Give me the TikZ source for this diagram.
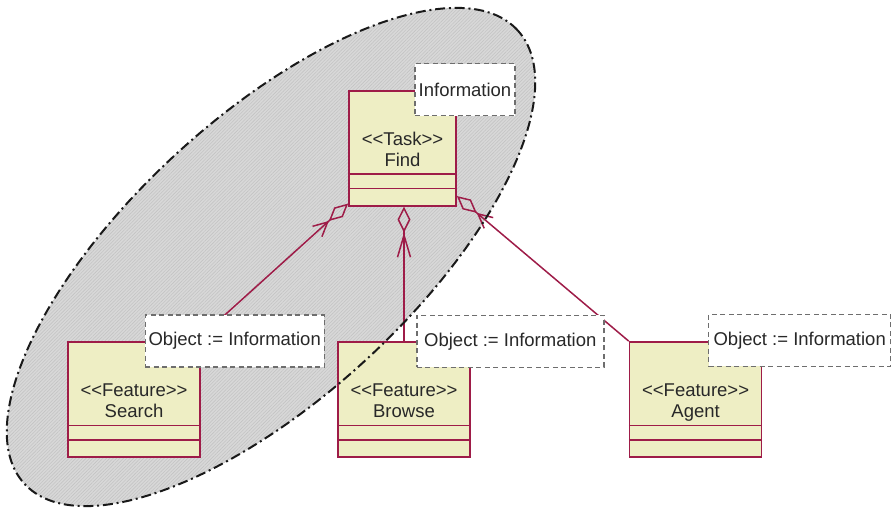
\documentclass[tikz,border=0pt]{standalone}
\usepackage{fontspec}
\setmainfont{Liberation Sans}
\usetikzlibrary{arrows.meta,patterns.meta}

\definecolor{umlred}{RGB}{158,28,72}
\definecolor{umlfill}{RGB}{238,238,196}
\definecolor{notegray}{RGB}{110,110,110}
\definecolor{hatchbase}{RGB}{216,216,216}
\definecolor{hatchline}{RGB}{196,196,196}
\definecolor{txt}{RGB}{40,40,40}

% stereotype guillemets written as two angle brackets
\newcommand\umlst[1]{<\kern0pt<#1>\kern0pt>}

\begin{document}
\begin{tikzpicture}[x=1pt,y=-1pt,
  every node/.style={font=\fontsize{18.5}{21}\selectfont, text=txt, inner sep=0pt},
  classbox/.style={draw=umlred, fill=umlfill, line width=1.7pt,
    minimum width=132pt, minimum height=115pt},
  taskbox/.style={classbox, minimum width=107pt},
  classname/.style={align=center, text depth=4.5pt},
  notebox/.style={draw=notegray, fill=white, line width=1.4pt,
    dash pattern=on 5pt off 3.5pt, minimum height=52pt},
  compart/.style={draw=umlred, line width=1.7pt},
  link/.style={draw=umlred, line width=1.5pt},
  aggr/.style={-{Straight Barb[length=14pt,width=14pt] Diamond[open,length=26pt,width=13pt]}},
  aggrlong/.style={-{Straight Barb[length=22pt,width=13pt] Diamond[open,length=26pt,width=13pt]}},
  groupshape/.style={shift={(271,257)}, rotate=42.6},
  groupborder/.style={draw=black!90, line width=2pt,
    dash pattern=on 10pt off 3.8pt on 2pt off 3.8pt}
]
\useasboundingbox (0,0) rectangle (894,507);

% shaded group region
\fill[hatchbase, groupshape] (0,0) ellipse [x radius=335pt, y radius=140pt];
\fill[pattern={Lines[angle=45,distance=2.4pt,line width=0.6pt]}, pattern color=hatchline,
  groupshape] (0,0) ellipse [x radius=335pt, y radius=140pt];

% classes
\node[taskbox]  (find)   at (402.5,148.2) {};
\node[classbox] (search) at (134,399.5) {};
\node[classbox] (browse) at (404,399.5) {};
\node[classbox] (agent)  at (695.6,399.5) {};

% aggregations towards Find
\draw[link, aggr] ([xshift=-5pt]search.north east) -- ([yshift=3pt]find.south west);
\draw[link, aggrlong] (browse.north) -- (browse.north |- find.south);
\draw[link, aggr] (agent.north west) -- ([yshift=10.5pt]find.south east);

% redraw class boxes over the connector ends
\node[taskbox]  at (find)   {};
\node[classbox] at (search) {};
\node[classbox] at (browse) {};
\node[classbox] at (agent)  {};

% compartments
\foreach \c in {find,search,browse,agent}{
  \draw[compart] ([yshift=18pt]\c.south west) -- ([yshift=18pt]\c.south east);
  \draw[compart] ([yshift=32.5pt]\c.south west) -- ([yshift=32.5pt]\c.south east);
}

% class names
\node[classname] (findname)   at (402.5,151.5) {\umlst{Task}\\Find};
\node[classname] (searchname) at (134,402.5) {\umlst{Feature}\\Search};
\node[classname] (browsename) at (404,402.5) {\umlst{Feature}\\Browse};
\node[classname] (agentname)  at (695.6,402.5) {\umlst{Feature}\\Agent};

% group outline
\draw[groupborder, groupshape] (0,0) ellipse [x radius=335pt, y radius=140pt];

% template parameter notes
\node[notebox, minimum width=100pt] (infonote)   at (465,89.5)   {Information};
\node[notebox, minimum width=179pt] (searchnote) at (234.7,341)  {Object := Information};
\node[notebox, minimum width=187pt] (browsenote) at (510.3,341.3) {Object := Information};
\node[notebox, minimum width=182pt] (agentnote)  at (799.7,340.3) {Object := Information};
\end{tikzpicture}
\end{document}
